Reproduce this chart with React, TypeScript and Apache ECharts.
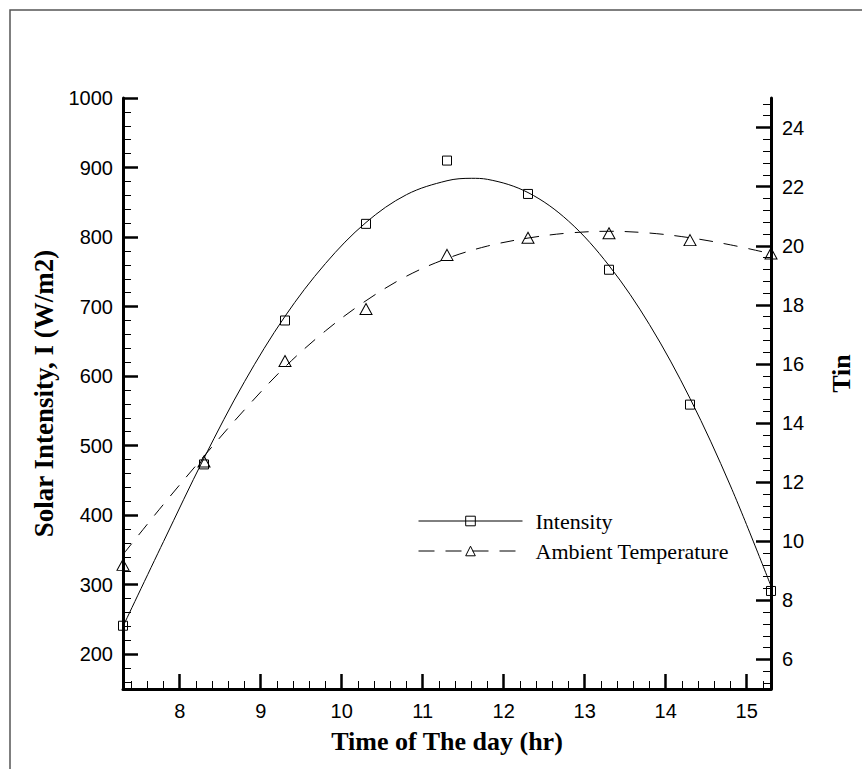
import React, { useEffect, useRef } from "react";
import * as echarts from "echarts";

// Measured points (markers)
const timeHours = [7.3, 8.3, 9.3, 10.3, 11.3, 12.3, 13.3, 14.3, 15.3];
const intensityMeasured = [241, 473, 680, 819, 910, 862, 753, 559, 291];
const ambientMeasured = [9.2, 12.7, 16.1, 17.86, 19.69, 20.27, 20.42, 20.19, 19.74];

// Fitted curves
const intensityFitTimes = [7.3, 7.8, 8.3, 8.8, 9.3, 9.8, 10.3, 10.8, 11.3, 11.6, 11.8, 12.3, 12.8, 13.3, 13.8, 14.3, 14.8, 15.3];
const intensityFit = [240, 362, 482, 592, 686, 762, 821, 861, 881, 884.5, 883, 864, 823, 759, 674, 568, 442, 298];
const ambientFitTimes = [7.3, 7.8, 8.3, 8.8, 9.3, 9.8, 10.3, 10.8, 11.3, 11.8, 12.3, 12.8, 13.3, 13.8, 14.3, 14.8, 15.3];
const ambientFit = [9.55, 11.25, 12.88, 14.45, 15.9, 17.12, 18.14, 18.97, 19.57, 19.99, 20.26, 20.43, 20.49, 20.43, 20.27, 20.03, 19.73];

// Tick labels
const xMajorTicks = [8, 9, 10, 11, 12, 13, 14, 15];
const leftMajorTicks = [200, 300, 400, 500, 600, 700, 800, 900, 1000];
const rightMajorTicks = [6, 8, 10, 12, 14, 16, 18, 20, 22, 24];

const seriesNames = ["Intensity", "Ambient Temperature"];
const xTitle = "Time of The day (hr)";
const leftTitle = "Solar Intensity, I (W/m2)";
const rightTitle = "Tin";

function minorTicks(from: number, to: number, step: number, majorEvery: number): number[] {
  const out: number[] = [];
  const n = Math.round((to - from) / step);
  for (let i = 0; i <= n; i++) {
    const v = Math.round((from + i * step) * 1000) / 1000;
    const r = v / majorEvery;
    if (Math.abs(r - Math.round(r)) > 1e-6) out.push(v);
  }
  return out;
}

const xMinorTicks = minorTicks(7.4, 15.2, 0.2, 1);
const leftMinorTicks = minorTicks(160, 980, 20, 100);
const rightMinorTicks = minorTicks(5.2, 24.8, 0.4, 2);

const axisFont = {
  fontFamily: "'Liberation Sans', Arial, sans-serif",
  fontSize: 20,
  color: "#000",
};
const titleFont = {
  fontFamily: "'Liberation Serif', 'Times New Roman', serif",
  fontSize: 26,
  fontWeight: "bold" as const,
  color: "#000",
};

export default function App() {
  const ref = useRef<HTMLDivElement>(null);

  useEffect(() => {
    if (!ref.current) return;
    const chart = echarts.init(ref.current, null, { renderer: "svg" });

    const plain = (v: number) => String(v);

    const majorAxis = (extra: any) => ({
      type: "value",
      axisLine: { show: true, onZero: false, lineStyle: { color: "#000", width: 3 } },
      splitLine: { show: false },
      ...extra,
    });
    const minorAxis = (extra: any, ticks: number[]) => ({
      type: "value",
      axisLine: { show: false, onZero: false },
      axisTick: { show: true, inside: true, length: 8, lineStyle: { color: "#000", width: 1 }, customValues: ticks },
      axisLabel: { show: false },
      splitLine: { show: false },
      ...extra,
    });

    const option: any = {
      animation: false,
      backgroundColor: "#fff",
      graphic: [
        {
          type: "rect",
          shape: { x: 10, y: 10, width: 1000, height: 1000 },
          style: { fill: "none", stroke: "#555", lineWidth: 1.5 },
          silent: true,
          z: -1,
        },
      ],
      grid: {
        left: 123,
        right: 91,
        top: 98,
        bottom: 80,
        containLabel: false,
        outerBoundsMode: "none",
      },
      legend: {
        show: true,
        orient: "vertical",
        left: 413,
        top: 505,
        itemWidth: 104,
        itemHeight: 12,
        itemGap: 8,
        selectedMode: false,
        data: [
          {
            name: seriesNames[0],
            itemStyle: { color: "rgba(0,0,0,0)", borderColor: "#000", borderWidth: 1 },
            lineStyle: { color: "#000", width: 1, type: "solid" },
          },
          {
            name: seriesNames[1],
            itemStyle: { color: "rgba(0,0,0,0)", borderColor: "#000", borderWidth: 1 },
            lineStyle: { color: "#000", width: 1, type: [16, 11] },
          },
        ],
        textStyle: {
          fontFamily: "'Liberation Serif', 'Times New Roman', serif",
          fontSize: 22,
          lineHeight: 22,
          color: "#000",
          padding: [0, 0, 0, 8],
        },
      },
      xAxis: [
        majorAxis({
          min: 7.3,
          max: 15.3,
          position: "bottom",
          axisTick: { show: true, inside: true, length: 15, lineStyle: { color: "#000", width: 2.5 }, customValues: xMajorTicks },
          axisLabel: { show: true, margin: 12, customValues: xMajorTicks, formatter: plain, ...axisFont },
          name: xTitle,
          nameLocation: "middle",
          nameGap: 39,
          nameTextStyle: titleFont,
        }),
        minorAxis({ min: 7.3, max: 15.3, position: "bottom" }, xMinorTicks),
      ],
      yAxis: [
        majorAxis({
          min: 150,
          max: 1000,
          position: "left",
          axisTick: { show: true, inside: true, length: 15, lineStyle: { color: "#000", width: 2.5 }, customValues: leftMajorTicks },
          axisLabel: { show: true, margin: 10, customValues: leftMajorTicks, formatter: plain, ...axisFont },
          name: leftTitle,
          nameLocation: "middle",
          nameGap: 56,
          nameTextStyle: { ...titleFont, fontSize: 27 },
        }),
        minorAxis({ min: 150, max: 1000, position: "left" }, leftMinorTicks),
        majorAxis({
          min: 5,
          max: 25,
          position: "right",
          axisTick: { show: true, inside: true, length: 15, lineStyle: { color: "#000", width: 2.5 }, customValues: rightMajorTicks },
          axisLabel: { show: true, margin: 11, customValues: rightMajorTicks, formatter: plain, ...axisFont },
          name: rightTitle,
          nameLocation: "middle",
          nameGap: 57,
          nameTextStyle: { ...titleFont, padding: [0, 0, 0, 40] },
        }),
        minorAxis({ min: 5, max: 25, position: "right" }, rightMinorTicks),
      ],
      series: [
        {
          name: seriesNames[0],
          type: "line",
          xAxisIndex: 0,
          yAxisIndex: 0,
          data: intensityFitTimes.map((t, i) => [t, intensityFit[i]]),
          smooth: 0.35,
          showSymbol: false,
          symbol: "rect",
          lineStyle: { color: "#000", width: 1 },
          itemStyle: { color: "rgba(0,0,0,0)", borderColor: "#000", borderWidth: 1 },
          silent: true,
        },
        {
          name: seriesNames[1],
          type: "line",
          xAxisIndex: 0,
          yAxisIndex: 2,
          data: ambientFitTimes.map((t, i) => [t, ambientFit[i]]),
          smooth: 0.35,
          showSymbol: false,
          symbol: "triangle",
          lineStyle: { color: "#000", width: 1, type: [14, 11] },
          itemStyle: { color: "rgba(0,0,0,0)", borderColor: "#000", borderWidth: 1 },
          silent: true,
        },
        {
          name: "Intensity (measured)",
          type: "scatter",
          xAxisIndex: 0,
          yAxisIndex: 0,
          data: timeHours.map((t, i) => [t, intensityMeasured[i]]),
          symbol: "rect",
          symbolSize: 9,
          itemStyle: { color: "rgba(0,0,0,0)", borderColor: "#000", borderWidth: 1, opacity: 1 },
          silent: true,
          z: 5,
        },
        {
          name: "Ambient Temperature (measured)",
          type: "scatter",
          xAxisIndex: 0,
          yAxisIndex: 2,
          data: timeHours.map((t, i) => [t, ambientMeasured[i]]),
          symbol: "triangle",
          symbolSize: [12, 11],
          itemStyle: { color: "rgba(0,0,0,0)", borderColor: "#000", borderWidth: 1, opacity: 1 },
          silent: true,
          z: 5,
        },
      ],
    };

    chart.setOption(option);
    return () => {
      chart.dispose();
    };
  }, []);

  return (
    <div
      ref={ref}
      style={{ position: "fixed", left: 0, top: 0, width: 862, height: 769, background: "#fff" }}
    />
  );
}
